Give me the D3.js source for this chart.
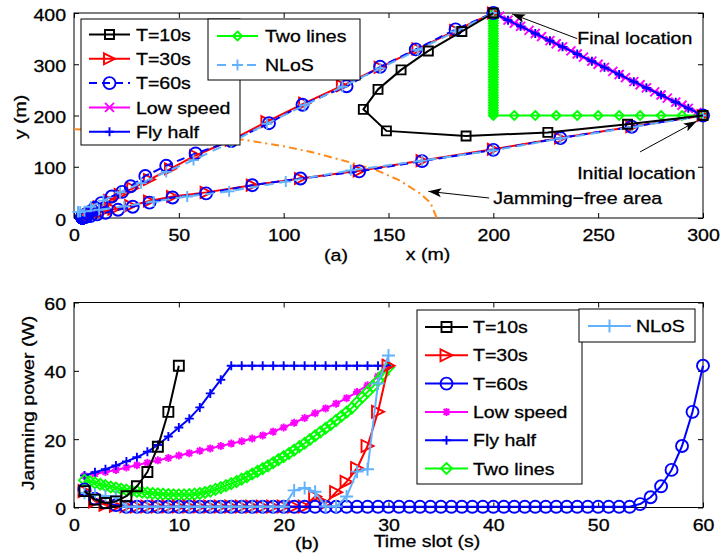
<!DOCTYPE html>
<html>
<head>
<meta charset="utf-8">
<script src="https://cdn.jsdelivr.net/npm/d3@7"></script>
<style>
  body { margin: 0; background: #fff; }
  svg { display: block; }
  text { font-family: "Liberation Sans", Arial, Helvetica, sans-serif; font-size: 17px; fill: #000;
         stroke: #000; stroke-width: 0.3px; }
</style>
</head>
<body>
<svg id="chart" width="720" height="554"></svg>
<script>
// ---------- panel (a): flight paths, [x, y] in metres ----------
const pathT10 = [[300,200],[264,183],[226,167],[187,160],[149,170],[138,212],[145,251],[156,289],[169,326],[185,364],[200,400]];

const pathT30 = [[300,200],[266,178],[232,156],[200,134],[166,112],[136,92],[108,77],[85,64],[63,50],[47,42],
  [36,33],[27,24],[19,17],[13,11],[9,7],[7,6],[12,22],[17,34],[22,46],[28,58],[36,75],[46,96],[58,122],
  [75,152],[92,188],[110,224],[128,258],[146,294],[164,330],[182,366],[200,400]];

const pathT60 = [[300,200],[266,178],[232,156],[200,133],[166,111],[136,91],[108,77],[85,64],[63,48],[47,40],
  [36,30],[28,22],[21,16],[15,10],[11,7],[8,4],[6,3],[5,2],[4,2],[4,1],[4,1],[4,1],[4,1],[4,1],[4,1],[4,1],
  [4,1],[4,1],[4,1],[4,1],[4,1],[4,1],[4,1],[4,1],[4,1],[4,1],[4,1],[4,1],[4,1],[5,2],[5,4],[6,8],[8,13],
  [10,20],[13,29],[18,42],[23,51],[27,62],[34,82],[44,102],[58,126],[75,150],[93,185],[109,221],[130,257],
  [146,295],[163,329],[182,368],[200,400]];

const pathLow = [[300,200],[297,206],[293,214],[290,220],[287,226],[283,234],[280,240],[277,246],[273,254],
  [270,260],[267,266],[263,274],[260,280],[257,286],[253,294],[250,300],[247,306],[243,314],[240,320],
  [237,326],[233,334],[230,340],[227,346],[223,354],[220,360],[217,366],[213,374],[210,380],[207,386],
  [203,394],[200,400]];

const pathFly = [[300,200],[293,214],[287,226],[280,240],[273,254],[267,266],[260,280],[253,294],[247,306],
  [240,320],[233,334],[227,346],[220,360],[213,374],[207,386],[200,400]];

const pathTwo = [[300,200],[290,200],[280,200],[270,200],[260,200],[250,200],[240,200],[230,200],[220,200],
  [210,200],[200,200],[200,205],[200,210],[200,215],[200,220],[200,225],[200,230],[200,235],[200,240],
  [200,245],[200,250],[200,255],[200,260],[200,265],[200,270],[200,275],[200,280],[200,285],[200,290],
  [200,295],[200,300],[200,305],[200,310],[200,315],[200,320],[200,325],[200,330],[200,335],[200,340],
  [200,345],[200,350],[200,355],[200,360],[200,365],[200,370],[200,375],[200,380],[200,385],[200,390],
  [200,395],[200,400]];

const pathNlos = [[300,200],[266,177],[232,155],[200,132],[166,112],[132,93],[101,71],[74,52],[54,42],[38,32],
  [24,23],[12,16],[5,13],[3,12],[2,12],[2,12],[2,12],[8,22],[14,34],[22,50],[32,68],[44,90],[57,113],
  [75,148],[92,184],[110,220],[128,256],[146,292],[164,328],[182,364],[200,400]];

// boundary of the jamming-free area
const jamFree = [[0,173],[20,172],[40,168],[60,162],[82,152],[100,140],[115,127],[133,107],[145,92],
  [155,74],[165,48],[170,30],[173,0]];

const xTicksA = [0, 50, 100, 150, 200, 250, 300];
const yTicksA = [0, 100, 200, 300, 400];

// annotations of panel (a), data coordinates
const notesA = [
  { text: 'Final location', at: [240, 352], from: [240, 350], to: [209, 398] },
  { text: 'Initial location', at: [240, 88], from: [270, 129], to: [297, 189] },
  { text: 'Jamming\u2212free area', at: [200, 39], from: [198, 39], to: [169, 52] },
];

// ---------- panel (b): jamming power (W) per time slot ----------
const powT10 = [4.8, 2.3, 1.3, 1.8, 3.3, 6.2, 10.4, 17.8, 28.0, 41.5];
const powT30 = [4.8, 1.8, 0.8, 0.5, 0.4, 0.3, 0.3, 0.3, 0.3, 0.3, 0.3, 0.3, 0.3, 0.3, 0.3, 0.3, 0.3, 0.3,
  0.3, 0.3, 0.3, 0.3, 3.2, 1.2, 4.5, 7.5, 11.5, 18.0, 28.0, 41.5];
const powT60 = [5.3, 2.6, 1.5, 0.7, 0.2, 0.2, 0.2, 0.2, 0.2, 0.2, 0.2, 0.2, 0.2, 0.2, 0.2, 0.2, 0.2, 0.2,
  0.2, 0.2, 0.2, 0.2, 0.2, 0.2, 0.2, 0.2, 0.2, 0.2, 0.2, 0.2, 0.2, 0.2, 0.2, 0.2, 0.2, 0.2, 0.2, 0.2, 0.2,
  0.2, 0.2, 0.2, 0.2, 0.2, 0.2, 0.2, 0.2, 0.2, 0.2, 0.2, 0.2, 0.2, 0.2, 1.0, 3.0, 6.2, 11.0, 18.0, 28.0, 41.5];
const powLow = [9.3, 9.8, 10.4, 11.0, 11.7, 12.4, 13.1, 13.8, 14.5, 15.2, 15.9, 16.6, 17.3, 18.0, 18.7,
  19.4, 20.2, 21.1, 22.2, 23.4, 24.8, 26.2, 27.6, 29.0, 30.4, 32.0, 33.8, 35.8, 38.4, 41.5];
const powFly = [9.4, 10.3, 11.2, 12.3, 13.5, 14.7, 16.3, 18.3, 20.8, 23.4, 26.0, 29.3, 33.4, 37.4, 41.5,
  41.5, 41.5, 41.5, 41.5, 41.5, 41.5, 41.5, 41.5, 41.5, 41.5, 41.5, 41.5, 41.5, 41.5, 41.5];
// two lines is sampled every half slot
const powTwo = [8.0, 7.6, 7.2, 6.8, 6.4, 6.0, 5.7, 5.4, 5.1, 4.9, 4.7, 4.5, 4.3, 4.1, 4.0, 3.9, 3.8, 3.7,
  3.7, 3.7, 3.8, 3.9, 4.1, 4.4, 4.8, 5.3, 5.8, 6.4, 7.0, 7.6, 8.3, 9.0, 9.8, 10.6, 11.4, 12.2, 13.1, 14.0,
  14.9, 15.8, 16.8, 17.8, 18.8, 19.9, 21.0, 22.1, 23.2, 24.3, 25.5, 26.7, 27.9, 29.1, 30.8, 32.3, 33.8,
  35.4, 37.1, 39.0, 41.0];
const powNlos = [4.3, 3.7, 3.4, 3.2, 0.2, 0.2, 0.2, 0.2, 0.2, 0.2, 0.2, 0.2, 0.2, 0.2, 0.2, 0.2, 0.2, 0.2,
  0.2, 0.2, 5.0, 5.7, 4.6, 0.3, 0.3, 3.2, 10.5, 11.2, 36.3, 44.5];

const xTicksB = [0, 10, 20, 30, 40, 50, 60];
const yTicksB = [0, 20, 40, 60];

// ---------- drawing ----------
const WIDE = 1.15; // reference glyphs are wider than Arial
const svg = d3.select('#chart');

const defs = svg.append('defs');
defs.append('marker')
  .attr('id', 'arrowhead')
  .attr('viewBox', '0 -5 13 10')
  .attr('refX', 13).attr('refY', 0)
  .attr('markerWidth', 13).attr('markerHeight', 10)
  .attr('markerUnits', 'userSpaceOnUse')
  .attr('orient', 'auto')
  .append('path')
  .attr('d', 'M0,-4.5L13,0L0,4.5L3,0Z')
  .attr('fill', '#000');

function label(g, x, y, s, { anchor = 'start', rotate = 0 } = {}) {
  return g.append('text')
    .attr('transform', `translate(${x},${y}) rotate(${rotate}) scale(${WIDE},1)`)
    .attr('text-anchor', anchor)
    .attr('dy', '0.36em')
    .text(s);
}

function markerPath(type, size) {
  const h = size / 2;
  const k = h * 0.72;
  switch (type) {
    case 'square': return `M${-h},${-h}H${h}V${h}H${-h}Z`;
    case 'circle': return `M${h},0A${h},${h} 0 1,1 ${-h},0A${h},${h} 0 1,1 ${h},0Z`;
    case 'right': return `M${-h},${-h}L${h},0L${-h},${h}Z`;
    case 'diamond': return `M0,${-h}L${h},0L0,${h}L${-h},0Z`;
    case 'plus': return `M${-h},0H${h}M0,${-h}V${h}`;
    case 'x': return `M${-h},${-h}L${h},${h}M${-h},${h}L${h},${-h}`;
    case 'star': return `M${-h},0H${h}M0,${-h}V${h}M${-k},${-k}L${k},${k}M${-k},${k}L${k},${-k}`;
    default: return '';
  }
}

function drawLine(g, pts, x, y, s) {
  g.append('path')
    .attr('d', d3.line().x((d) => x(d[0])).y((d) => y(d[1]))(pts))
    .attr('fill', 'none')
    .attr('stroke', s.color)
    .attr('stroke-width', s.width || 2)
    .attr('stroke-dasharray', s.dash || null)
    .attr('stroke-linejoin', 'round');
}

function drawMarkers(g, pts, x, y, s) {
  g.append('g')
    .selectAll('path')
    .data(pts)
    .join('path')
    .attr('transform', (d) => `translate(${x(d[0])},${y(d[1])})`)
    .attr('d', markerPath(s.marker, s.size))
    .attr('fill', 'none')
    .attr('stroke', s.color)
    .attr('stroke-width', s.mw || 1.9);
}

function drawAxes(g, x, y, xTicks, yTicks) {
  const [x0, x1] = x.range();
  const [y0, y1] = y.range();

  const bottom = g.append('g')
    .attr('transform', `translate(0,${y0})`)
    .call(d3.axisBottom(x).tickValues(xTicks).tickSizeInner(-5).tickSizeOuter(0).tickPadding(11));
  bottom.selectAll('text').attr('transform', `scale(${WIDE},1)`);

  const left = g.append('g')
    .attr('transform', `translate(${x0},0)`)
    .call(d3.axisLeft(y).tickValues(yTicks).tickSizeInner(-5).tickSizeOuter(0).tickPadding(8 / WIDE));
  left.selectAll('text').attr('transform', `scale(${WIDE},1)`).attr('dy', '0.42em');

  g.append('g')
    .attr('transform', `translate(0,${y1})`)
    .call(d3.axisTop(x).tickValues(xTicks).tickSizeInner(-5).tickSizeOuter(0).tickFormat(''));
  g.append('g')
    .attr('transform', `translate(${x1},0)`)
    .call(d3.axisRight(y).tickValues(yTicks).tickSizeInner(-5).tickSizeOuter(0).tickFormat(''));

  g.selectAll('.domain').remove();
  g.selectAll('.tick line').attr('stroke', '#000');
  g.append('rect')
    .attr('x', x0).attr('y', y1)
    .attr('width', x1 - x0).attr('height', y0 - y1)
    .attr('fill', 'none').attr('stroke', '#000').attr('stroke-width', 1);
}

function drawLegend(g, box, rowY, sampleX, textX, entries) {
  g.append('rect')
    .attr('x', box[0]).attr('y', box[1])
    .attr('width', box[2] - box[0]).attr('height', box[3] - box[1])
    .attr('fill', '#fff').attr('stroke', '#000').attr('stroke-width', 1);
  entries.forEach((e, i) => {
    const yy = rowY[0] + i * rowY[1];
    g.append('line')
      .attr('x1', sampleX[0]).attr('x2', sampleX[1])
      .attr('y1', yy).attr('y2', yy)
      .attr('stroke', e.style.color)
      .attr('stroke-width', e.style.width || 2)
      .attr('stroke-dasharray', e.style.dash || null);
    g.append('path')
      .attr('transform', `translate(${(sampleX[0] + sampleX[1]) / 2},${yy})`)
      .attr('d', markerPath(e.style.marker, e.style.size))
      .attr('fill', 'none')
      .attr('stroke', e.style.color)
      .attr('stroke-width', e.style.mw || 1.9);
    label(g, textX, yy, e.label);
  });
}

const LIGHT = '#62b1ff';

// ---------------- panel (a) ----------------
const xA = d3.scaleLinear().domain([0, 300]).range([74, 703]);
const yA = d3.scaleLinear().domain([0, 400]).range([218, 13]);
const gA = svg.append('g');

const styleA = {
  t10: { color: '#000', marker: 'square', size: 9 },
  t30: { color: '#f00', marker: 'right', size: 11 },
  t60: { color: '#00f', marker: 'circle', size: 12, dash: '8,5' },
  low: { color: '#f0f', marker: 'x', size: 9 },
  fly: { color: '#00f', marker: 'plus', size: 9 },
  two: { color: '#0f0', marker: 'diamond', size: 9 },
  nlos: { color: LIGHT, marker: 'plus', size: 11, dash: '9,6' },
};

drawAxes(gA, xA, yA, xTicksA, yTicksA);

drawLine(gA, jamFree, xA, yA, { color: '#ff8a1a', width: 2, dash: '8,4,2,4' });

const seriesA = [
  [pathLow, styleA.low], [pathFly, styleA.fly], [pathTwo, styleA.two],
  [pathT30, styleA.t30], [pathT60, styleA.t60], [pathNlos, styleA.nlos], [pathT10, styleA.t10],
];
seriesA.forEach(([pts, s]) => {
  drawLine(gA, pts, xA, yA, s);
  drawMarkers(gA, pts, xA, yA, s);
});

notesA.forEach((n) => {
  gA.append('line')
    .attr('x1', xA(n.from[0])).attr('y1', yA(n.from[1]))
    .attr('x2', xA(n.to[0])).attr('y2', yA(n.to[1]))
    .attr('stroke', '#000').attr('stroke-width', 1)
    .attr('marker-end', 'url(#arrowhead)');
  label(gA, xA(n.at[0]), yA(n.at[1]), n.text);
});

drawLegend(gA, [81, 19, 240, 145], [34.5, 24.3], [89, 130], 136, [
  { label: 'T=10s', style: styleA.t10 },
  { label: 'T=30s', style: styleA.t30 },
  { label: 'T=60s', style: styleA.t60 },
  { label: 'Low speed', style: styleA.low },
  { label: 'Fly half', style: styleA.fly },
]);
drawLegend(gA, [208, 19, 360, 80], [36, 29], [217, 258], 265, [
  { label: 'Two lines', style: styleA.two },
  { label: 'NLoS', style: styleA.nlos },
]);

label(gA, 20, 117, 'y (m)', { anchor: 'middle', rotate: -90 });
label(gA, 428, 254, 'x (m)', { anchor: 'middle' });
label(gA, 336, 255, '(a)', { anchor: 'middle' });

// ---------------- panel (b) ----------------
const xB = d3.scaleLinear().domain([0, 60]).range([74, 703]);
const yB = d3.scaleLinear().domain([0, 60]).range([507.5, 302.5]);
const gB = svg.append('g');

const styleB = {
  t10: { color: '#000', marker: 'square', size: 10 },
  t30: { color: '#f00', marker: 'right', size: 12 },
  t60: { color: '#00f', marker: 'circle', size: 12 },
  low: { color: '#f0f', marker: 'star', size: 8 },
  fly: { color: '#00f', marker: 'plus', size: 9 },
  two: { color: '#0f0', marker: 'diamond', size: 11 },
  nlos: { color: LIGHT, marker: 'plus', size: 13 },
};

const bySlot = (values, step = 1) => values.map((v, i) => [1 + i * step, v]);

drawAxes(gB, xB, yB, xTicksB, yTicksB);

const seriesB = [
  [bySlot(powLow), styleB.low], [bySlot(powFly), styleB.fly], [bySlot(powTwo, 0.5), styleB.two],
  [bySlot(powT30), styleB.t30], [bySlot(powT60), styleB.t60], [bySlot(powNlos), styleB.nlos],
  [bySlot(powT10), styleB.t10],
];
seriesB.forEach(([pts, s]) => {
  drawLine(gB, pts, xB, yB, s);
  drawMarkers(gB, pts, xB, yB, s);
});

drawLegend(gB, [417, 310, 582, 484], [327, 28.3], [425, 468], 473, [
  { label: 'T=10s', style: styleB.t10 },
  { label: 'T=30s', style: styleB.t30 },
  { label: 'T=60s', style: styleB.t60 },
  { label: 'Low speed', style: styleB.low },
  { label: 'Fly half', style: styleB.fly },
  { label: 'Two lines', style: styleB.two },
]);
drawLegend(gB, [579, 309, 695, 342], [326, 0], [588, 631], 636, [
  { label: 'NLoS', style: styleB.nlos },
]);

label(gB, 28, 403, 'Jamming power (W)', { anchor: 'middle', rotate: -90 });
label(gB, 427, 541, 'Time slot (s)', { anchor: 'middle' });
label(gB, 307, 543, '(b)', { anchor: 'middle' });
</script>
</body>
</html>
